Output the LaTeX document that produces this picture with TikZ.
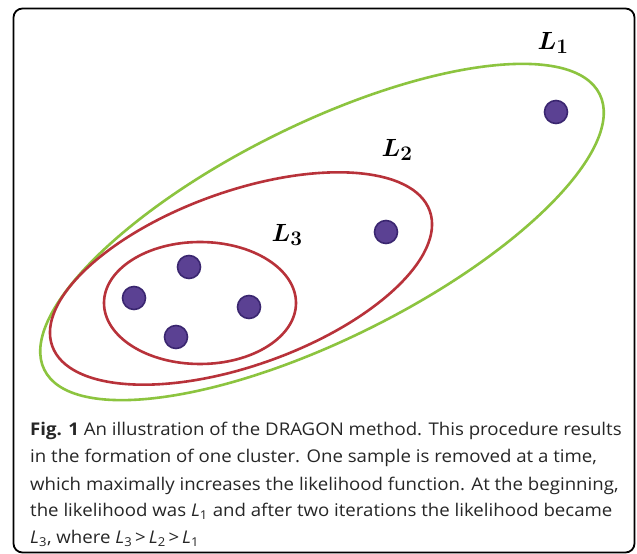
\documentclass[tikz,border=0pt]{standalone}
\usepackage[no-math]{fontspec}
\usepackage{amsmath}
\setmainfont[FakeStretch=1.065]{Open Sans}
\definecolor{lgreen}{HTML}{8CC43F}
\definecolor{lred}{HTML}{B8323A}
\definecolor{dotfill}{HTML}{5B4193}
\definecolor{dotline}{HTML}{3A2670}
\tikzset{
  dot/.style={circle, fill=dotfill, draw=dotline, line width=1.6pt, minimum size=23pt, inner sep=0pt},
  lab/.style={font=\fontsize{30}{32}\selectfont\boldmath, inner sep=0pt},
  capline/.style={anchor=base west, inner sep=0pt, font=\fontsize{17.5}{21}\selectfont, text=black!85},
  curveg/.style={draw=lgreen, line width=2.6pt},
  curver/.style={draw=lred, line width=2.6pt}
}
\begin{document}
\begin{tikzpicture}[x=1pt,y=1pt]
\useasboundingbox (0,0) rectangle (637,554);
\fill[white] (0,0) rectangle (637,554);
\draw[line width=1.8pt, rounded corners=9pt] (13.5,1.5) rectangle (634.5,545.5);
% likelihood contours
\draw[curveg] (322,322) ellipse[x radius=310, y radius=107.5, rotate=26.4];
\draw[curver] (241,275.5) ellipse[x radius=200.5, y radius=87, rotate=19.7];
\draw[curver] (200,251) ellipse[x radius=96, y radius=61];
% samples
\node[dot] (s1) at (556,442) {};
\node[dot] (s2) at (386,322) {};
\node[dot] (s3) at (189,287) {};
\node[dot] (s4) at (134,256) {};
\node[dot] (s5) at (249,247) {};
\node[dot] (s6) at (176,217) {};
% labels
\node[lab] (l1) at (553,511) {$L_1$};
\node[lab] (l2) at (397,404) {$L_2$};
\node[lab] (l3) at (287,319) {$L_3$};
% caption
\node[capline] (c1) at (30,118) {\textbf{Fig. 1} An illustration of the DRAGON method. This procedure results};
\node[capline] (c2) at (30,91) {in the formation of one cluster. One sample is removed at a time,};
\node[capline] (c3) at (30,63) {which maximally increases the likelihood function. At the beginning,};
\node[capline] (c4) at (30,37) {the likelihood was \textit{L}\textsubscript{1} and after two iterations the likelihood became};
\node[capline] (c5) at (30,10) {\textit{L}\textsubscript{3}, where \textit{L}\textsubscript{3}\,>\,\textit{L}\textsubscript{2}\,>\,\textit{L}\textsubscript{1}};
\end{tikzpicture}
\end{document}
